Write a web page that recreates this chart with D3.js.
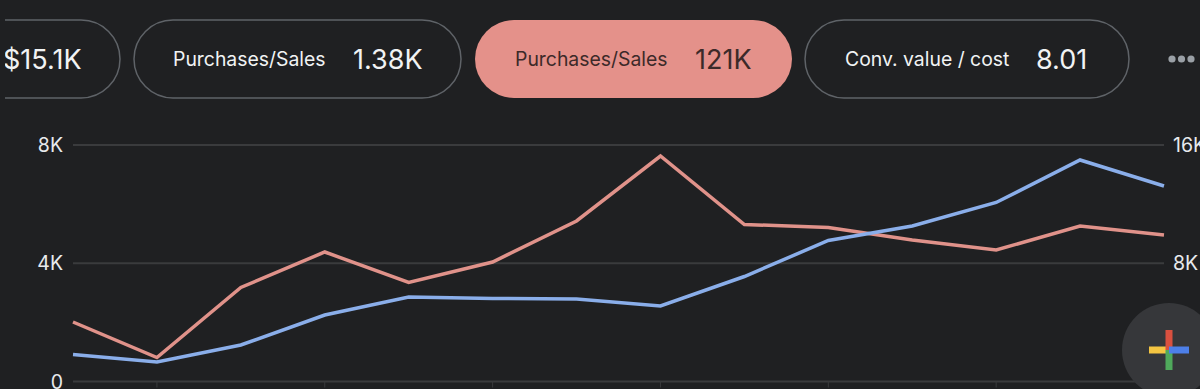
<!DOCTYPE html>
<html>
<head>
<meta charset="utf-8">
<script src="https://cdn.jsdelivr.net/npm/d3@7"></script>
<style>
  html, body { margin: 0; padding: 0; background: #1f2022; overflow: hidden; }
  text { font-family: "Inter", sans-serif; }
</style>
</head>
<body>
<div id="chart"></div>
<script>
const width = 1200, height = 389;

// one point per period
const periods = d3.range(1, 15);
const salesValues = [2013, 812, 3180, 4381, 3349, 4043, 5430, 7628, 5311, 5210, 4787, 4449, 5260, 4956];
const purchaseValues = [1827, 1319, 2470, 4500, 5717, 5616, 5582, 5108, 7104, 9540, 10521, 12111, 14986, 13227];
const leftTicks = [0, 4000, 8000];
const rightTicks = [8000, 16000];
const tickPeriods = [2, 4, 6, 8, 10, 12, 14];

const cardLabels = ["", "Purchases/Sales", "Purchases/Sales", "Conv. value / cost"];
const cardValues = ["$15.1K", "1.38K", "121K", "8.01"];

const svg = d3.select("#chart")
  .append("svg")
  .attr("width", width)
  .attr("height", height)
  .style("display", "block")
  .style("background-color", "#1f2022");

const x = d3.scalePoint().domain(periods).range([73, 1164]);
const yLeft = d3.scaleLinear().domain([0, 8000]).range([381.5, 145]);
const yRight = d3.scaleLinear().domain([0, 16000]).range([381.5, 145]);

const fmt = d => d === 0 ? "0" : (d / 1000) + "K";

// gridlines
svg.append("g")
  .selectAll("line")
  .data(leftTicks)
  .enter()
  .append("line")
  .attr("x1", 73)
  .attr("x2", 1164)
  .attr("y1", d => yLeft(d))
  .attr("y2", d => yLeft(d))
  .style("stroke", "#3a3b3d")
  .style("stroke-width", 2);

// little ticks under the baseline
svg.append("g")
  .selectAll("line")
  .data(tickPeriods)
  .enter()
  .append("line")
  .attr("x1", d => x(d))
  .attr("x2", d => x(d))
  .attr("y1", yLeft(0))
  .attr("y2", yLeft(0) + 6)
  .style("stroke", "#3a3b3d")
  .style("stroke-width", 1);

// axis labels
svg.append("g")
  .selectAll("text")
  .data(leftTicks)
  .enter()
  .append("text")
  .attr("x", 63)
  .attr("y", d => yLeft(d))
  .attr("dy", "0.36em")
  .attr("text-anchor", "end")
  .attr("font-size", 19.5)
  .attr("fill", "#e8eaed")
  .text(fmt);

svg.append("g")
  .selectAll("text")
  .data(rightTicks)
  .enter()
  .append("text")
  .attr("x", 1173)
  .attr("y", d => yRight(d))
  .attr("dy", "0.36em")
  .attr("font-size", 19.5)
  .attr("fill", "#e8eaed")
  .text(fmt);

// series
const lineLeft = d3.line().x((d, i) => x(periods[i])).y(d => yLeft(d));
const lineRight = d3.line().x((d, i) => x(periods[i])).y(d => yRight(d));

svg.append("path")
  .attr("d", lineLeft(salesValues))
  .attr("fill", "none")
  .style("stroke", "#e0928a")
  .style("stroke-width", 3.5);

svg.append("path")
  .attr("d", lineRight(purchaseValues))
  .attr("fill", "none")
  .style("stroke", "#8aaeea")
  .style("stroke-width", 3.5);

// metric cards
const cardLeft = [-60, 134, 475, 805];
const cardRight = [120, 461, 792, 1129];
const labelX = [0, 173, 515, 845];
const valueX = [3, 353, 695, 1036];

const cards = svg.append("g")
  .selectAll("g")
  .data(cardValues)
  .enter()
  .append("g");

cards.append("rect")
  .attr("x", (d, i) => cardLeft[i])
  .attr("y", 20)
  .attr("width", (d, i) => cardRight[i] - cardLeft[i])
  .attr("height", 78)
  .attr("rx", 39)
  .attr("fill", (d, i) => i === 2 ? "#e4918a" : "none")
  .style("stroke", (d, i) => i === 2 ? "none" : "#5f6368")
  .style("stroke-width", 1.5);

cards.append("text")
  .attr("x", (d, i) => labelX[i])
  .attr("y", 66)
  .attr("font-size", 19.4)
  .attr("fill", (d, i) => i === 2 ? "#3c2a29" : "#f1f3f4")
  .text((d, i) => cardLabels[i]);

cards.append("text")
  .attr("x", (d, i) => valueX[i])
  .attr("y", 69)
  .attr("font-size", 27)
  .attr("fill", (d, i) => i === 2 ? "#3c2a29" : "#f1f3f4")
  .text(d => d);

// first card is scrolled off, it stops at x=5
svg.append("rect")
  .attr("x", 0)
  .attr("y", 15)
  .attr("width", 5)
  .attr("height", 90)
  .attr("fill", "#1f2022");

// overflow dots
svg.append("g")
  .selectAll("circle")
  .data([0, 1, 2])
  .enter()
  .append("circle")
  .attr("cx", d => 1172 + d * 9.5)
  .attr("cy", 59)
  .attr("r", 3.6)
  .attr("fill", "#9aa0a6");

// floating add button
const fab = svg.append("g");
fab.append("circle")
  .attr("cx", 1169)
  .attr("cy", 350)
  .attr("r", 47)
  .attr("fill", "#36373a");
fab.append("rect").attr("x", 1149).attr("y", 346.5).attr("width", 20).attr("height", 7).attr("fill", "#f4c542");
fab.append("rect").attr("x", 1165.5).attr("y", 330).attr("width", 7).attr("height", 20).attr("fill", "#d9503f");
fab.append("rect").attr("x", 1165.5).attr("y", 350).attr("width", 7).attr("height", 20).attr("fill", "#4fa95b");
fab.append("rect").attr("x", 1169).attr("y", 346.5).attr("width", 20).attr("height", 7).attr("fill", "#4d7fe8");
</script>
</body>
</html>
